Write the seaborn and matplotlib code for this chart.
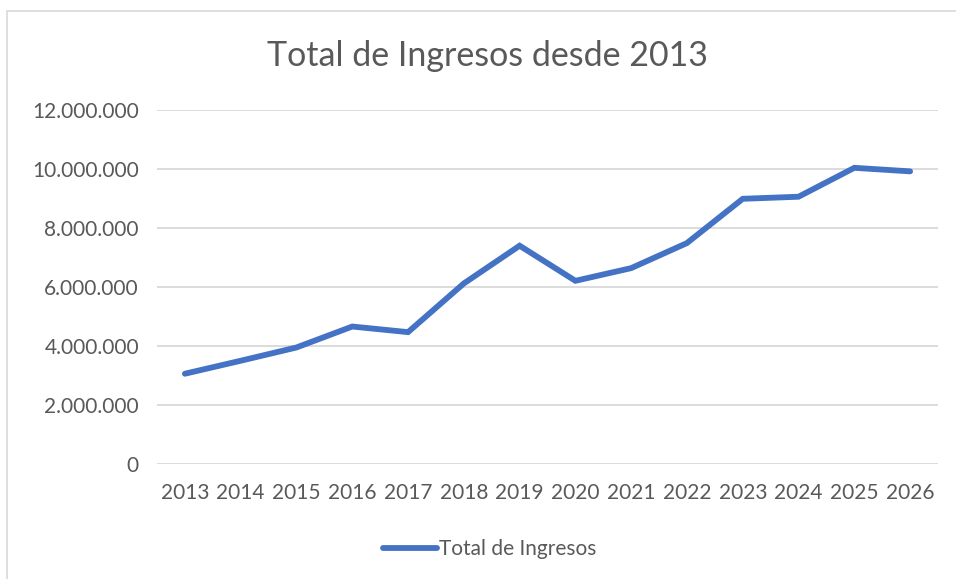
import matplotlib
matplotlib.use("Agg")
import matplotlib.pyplot as plt
import matplotlib.ticker as mticker
from matplotlib.patches import Rectangle
import seaborn as sns
import pandas as pd

# valores
years = [str(y) for y in range(2013, 2027)]
ingresos = [3060000, 3500000, 3950000, 4660000, 4470000, 6120000, 7400000,
            6210000, 6640000, 7490000, 8990000, 9060000, 10040000, 9920000]
y_ticks = [0, 2000000, 4000000, 6000000, 8000000, 10000000, 12000000]

df = pd.DataFrame({"year": years, "Total de Ingresos": ingresos})

sns.set_theme(style="white")
plt.rcParams["font.family"] = ["Lato", "DejaVu Sans"]

text_color = "#595959"
line_color = "#4472C4"
grid_color = "#D9D9D9"

fig = plt.figure(figsize=(9.56, 5.79), dpi=100)
ax = fig.add_axes([157 / 956, 1 - 464 / 579, (938 - 157) / 956, (464 - 110) / 579])

sns.lineplot(data=df, x="year", y="Total de Ingresos", ax=ax, color=line_color,
             linewidth=4.2, sort=False, solid_capstyle="round", solid_joinstyle="miter",
             label="Total de Ingresos", legend=False)

ax.set_xlim(-0.5, len(years) - 0.5)
ax.set_ylim(0, 12000000)
ax.set_yticks(y_ticks)
ax.yaxis.set_major_formatter(mticker.FuncFormatter(lambda v, p: f"{int(v):,}".replace(",", ".")))
ax.grid(axis="y", color=grid_color, linewidth=1.3)
ax.set_axisbelow(True)
for s in ax.spines.values():
    s.set_visible(False)
ax.tick_params(axis="both", length=0, labelsize=15, labelcolor=text_color)
ax.tick_params(axis="y", pad=13)
ax.tick_params(axis="x", pad=14)
ax.set_xlabel("")
ax.set_ylabel("")

fig.text(487 / 956, 1 - 56 / 579, "Total de Ingresos desde 2013", ha="center", va="center",
         fontsize=24.5, color=text_color)

handles, labels = ax.get_legend_handles_labels()
leg = fig.legend(handles, labels, loc="center", bbox_to_anchor=(490 / 956, 1 - 549 / 579),
                 frameon=False, fontsize=15, handlelength=2.6, handletextpad=0.1)
for t in leg.get_texts():
    t.set_color(text_color)

# marco del area del grafico
fig.patches.append(Rectangle((7 / 956, -0.05), 1.0, 1 - 11 / 579 + 0.05, transform=fig.transFigure,
                             fill=False, edgecolor=grid_color, linewidth=1.2))

fig.savefig("out.png", dpi=100, facecolor="white")
